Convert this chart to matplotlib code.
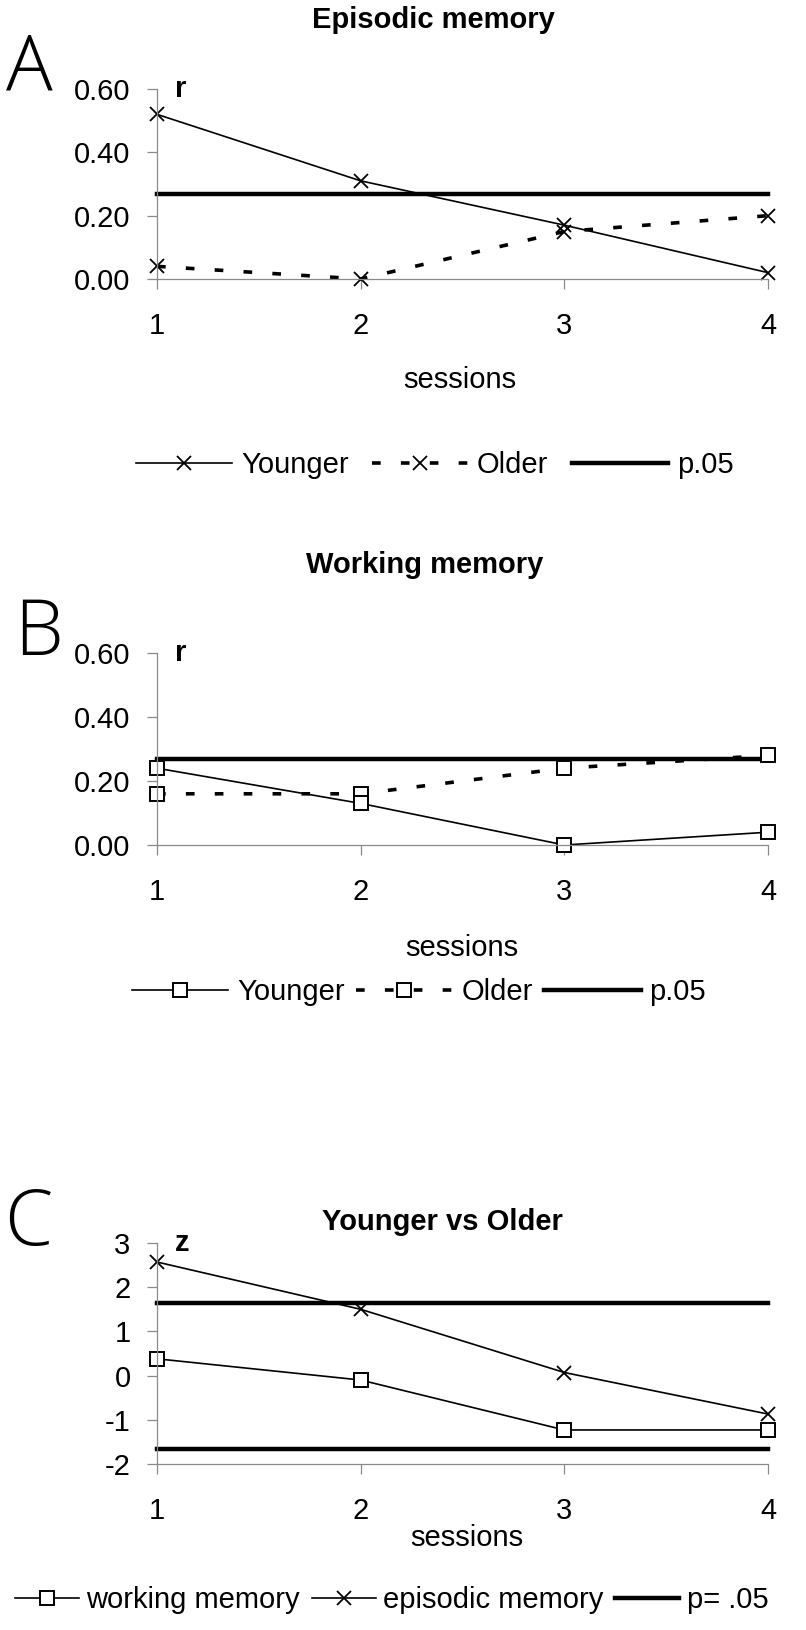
import matplotlib
matplotlib.use("Agg")
import matplotlib.pyplot as plt
from matplotlib.lines import Line2D

plt.rcParams['font.family'] = ['Liberation Sans', 'DejaVu Sans']
plt.rcParams['axes.unicode_minus'] = False

# Données
sessions = [1, 2, 3, 4]
episodic_younger = [0.52, 0.31, 0.17, 0.02]
episodic_older = [0.04, 0.00, 0.15, 0.20]
working_younger = [0.24, 0.13, 0.00, 0.04]
working_older = [0.16, 0.16, 0.24, 0.28]
z_working = [0.38, -0.10, -1.23, -1.23]
z_episodic = [2.57, 1.50, 0.07, -0.87]
r_crit = 0.27
z_crit = 1.65

r_ticks = [0.0, 0.2, 0.4, 0.6]
r_ticklabels = ["0.00", "0.20", "0.40", "0.60"]
z_ticks = [-2, -1, 0, 1, 2, 3]
z_ticklabels = ["-2", "-1", "0", "1", "2", "3"]

W, H = 806, 1630
FS = 21
GRAY = "#8a8a8a"

fig = plt.figure(figsize=(W / 100, H / 100), dpi=100)


def add_ax(left, right, top, bottom):
    return fig.add_axes([left / W, 1 - bottom / H, (right - left) / W, (bottom - top) / H])


def style(ax, ylim, ticks, labels, letter):
    ax.set_xlim(1, 4)
    ax.set_ylim(*ylim)
    ax.set_xticks(sessions)
    ax.set_xticklabels([str(s) for s in sessions])
    ax.set_yticks(ticks)
    ax.set_yticklabels(labels)
    for s in ["top", "right"]:
        ax.spines[s].set_visible(False)
    for s in ["left", "bottom"]:
        ax.spines[s].set_color(GRAY)
        ax.spines[s].set_linewidth(0.9)
    ax.tick_params(direction="out", color=GRAY, length=7, width=0.9, labelsize=FS)
    ax.tick_params(axis="x", pad=17)
    ax.tick_params(axis="y", pad=12)
    ax.annotate(letter, xy=(1, ylim[1]), xytext=(13, -6), textcoords="offset points",
                ha="left", va="baseline", fontsize=FS, fontweight="bold",
                annotation_clip=False)


young_kw = dict(color="black", lw=1.2, marker="x", ms=10, mew=1.3, clip_on=False)
old_kw = dict(color="black", lw=2.6, ls=(0, (2.4, 5.6)), marker="x", ms=10, mew=1.3,
              clip_on=False)
crit_kw = dict(color="black", lw=3.2, clip_on=False)
sq = dict(marker="s", ms=10.5, mfc="white", mec="black", mew=1.4)

# A - mémoire épisodique
axA = add_ax(157, 768, 89, 279)
axA.plot(sessions, episodic_younger, **young_kw)
axA.plot(sessions, episodic_older, **old_kw)
axA.plot(sessions, [r_crit] * 4, **crit_kw)
style(axA, (0, 0.6), r_ticks, r_ticklabels, "r")

# B - mémoire de travail
axB = add_ax(157, 768, 653, 845)
axB.plot(sessions, [r_crit] * 4, **crit_kw)
axB.plot(sessions, working_older, **{**old_kw, **sq})
axB.plot(sessions, working_younger, **{**young_kw, **sq})
style(axB, (0, 0.6), r_ticks, r_ticklabels, "r")

# C - jeunes vs âgés
axC = add_ax(157, 768, 1243, 1464)
axC.plot(sessions, [z_crit] * 4, **crit_kw)
axC.plot(sessions, [-z_crit] * 4, **crit_kw)
axC.plot(sessions, z_episodic, **young_kw)
axC.plot(sessions, z_working, **{**young_kw, **sq})
style(axC, (-2, 3), z_ticks, z_ticklabels, "z")


# titres, lettres, étiquettes
def ftext(x, y, s, **kw):
    fig.text(x / W, 1 - y / H, s, **kw)


ftext(433, 20, "Episodic memory", ha="center", va="center", fontsize=FS, fontweight="bold")
ftext(425, 565, "Working memory", ha="center", va="center", fontsize=FS, fontweight="bold")
ftext(442, 1222, "Younger vs Older", ha="center", va="center", fontsize=FS, fontweight="bold")

for x, y, s in [(6, 90, "A"), (14, 655, "B"), (4, 1245, "C")]:
    ftext(x, y, s, ha="left", va="baseline", fontsize=56, fontweight="light",
          family=["Open Sans", "DejaVu Sans"])

ftext(460, 380, "sessions", ha="center", va="center", fontsize=FS)
ftext(462, 948, "sessions", ha="center", va="center", fontsize=FS)
ftext(467, 1538, "sessions", ha="center", va="center", fontsize=FS)

# légendes
hy = Line2D([], [], **young_kw)
ho = Line2D([], [], **old_kw)
hc = Line2D([], [], **crit_kw)
hy_sq = Line2D([], [], **{**young_kw, **sq})
ho_sq = Line2D([], [], **{**old_kw, **sq})


def leg(handles, labels, x, y, hl, cs, tp):
    fig.legend(handles, labels, loc="center left", bbox_to_anchor=(x / W, 1 - y / H),
               ncol=len(handles), frameon=False, fontsize=FS, handlelength=hl,
               columnspacing=cs, handletextpad=tp, borderpad=0, borderaxespad=0)


leg([hy, ho, hc], ["Younger", "Older", "p.05"], 136, 465, 3.3, 0.8, 0.3)
leg([hy_sq, ho_sq, hc], ["Younger", "Older", "p.05"], 132, 992, 3.3, 0.4, 0.3)
leg([hy_sq, hy, hc], ["working memory", "episodic memory", "p= .05"], 15, 1600, 2.2, 0.4, 0.25)

fig.savefig("out.png", dpi=100)
